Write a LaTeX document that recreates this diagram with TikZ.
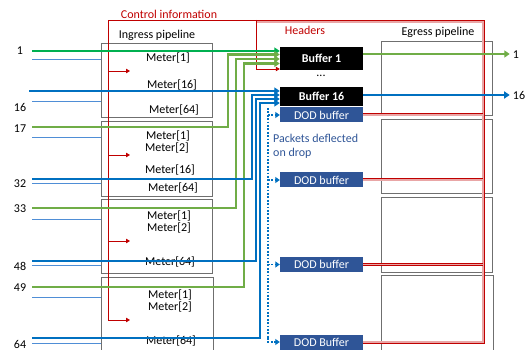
\documentclass[tikz,border=0pt]{standalone}
\usepackage{fontspec}
\setmainfont{Carlito}
\usetikzlibrary{arrows.meta}
\definecolor{gA}{HTML}{00B050}
\definecolor{gB}{HTML}{70AD47}
\definecolor{bA}{HTML}{0070C0}
\definecolor{bThin}{HTML}{4F8ED6}
\definecolor{rA}{HTML}{C00000}
\definecolor{dod}{HTML}{2F5597}
\definecolor{boxgray}{HTML}{6F6F6F}
\begin{document}
\begin{tikzpicture}[x=1pt,y=-1pt,
  font=\fontsize{12}{14}\selectfont,
  pipe/.style={draw=boxgray, line width=0.7pt, inner sep=0pt},
  txt/.style={inner sep=0pt},
  meter/.style={inner sep=0pt, text=black},
  thinln/.style={draw=bThin, line width=0.75pt},
  bigtip/.style={-{Triangle[length=5.5pt,width=7pt]}},
  gport1/.style={draw=gA, line width=2.6pt, bigtip},
  gport2/.style={draw=gB, line width=2.6pt, bigtip},
  bport/.style={draw=bA, line width=2.6pt, bigtip},
  ctrl/.style={draw=rA, line width=0.8pt},
  ctip/.style={-{Triangle[length=4pt,width=4.5pt]}},
  hdr/.style={draw=rA, double=rA!35, double distance=1.3pt, line width=0.85pt},
  buf/.style={fill=black, text=white, font=\fontsize{12}{14}\selectfont\bfseries, minimum width=83pt, inner sep=0pt},
  dodbuf/.style={fill=dod, text=white, minimum width=83pt, minimum height=15pt, inner sep=0pt},
  dots/.style={draw=bA, line width=1.8pt, dash pattern=on 1.8pt off 1.6pt},
  dtip/.style={-{Triangle[length=4.5pt,width=6pt]}},
]
\useasboundingbox (0,0) rectangle (528,350);

% ingress and egress boxes
\node[pipe, anchor=north west, minimum width=111pt, minimum height=74pt] (in1) at (101,43) {};
\node[pipe, anchor=north west, minimum width=111pt, minimum height=75pt] (in2) at (101,121) {};
\node[pipe, anchor=north west, minimum width=111pt, minimum height=74pt] (in3) at (101,199) {};
\node[pipe, anchor=north west, minimum width=112pt, minimum height=80pt] (in4) at (101,277) {};
\node[pipe, anchor=north west, minimum width=111pt, minimum height=74pt] (eg1) at (381,41) {};
\node[pipe, anchor=north west, minimum width=111pt, minimum height=74pt] (eg2) at (381,119) {};
\node[pipe, anchor=north west, minimum width=111pt, minimum height=75pt] (eg3) at (381,197) {};
\node[pipe, anchor=north west, minimum width=112pt, minimum height=80pt] (eg4) at (381,275) {};

% titles
\node[txt, text=rA] (ctitle) at (169,14) {Control information};
\node[txt] (ingt) at (157,35) {Ingress pipeline};
\node[txt] (egt) at (438,32) {Egress pipeline};
\node[txt, text=rA] (hdrt) at (305,30) {Headers};

% meters
\node[meter] (m11) at (168,58) {Meter[1]};
\node[meter] (m116) at (172,85) {Meter[16]};
\node[meter] (m164) at (174,110) {Meter[64]};
\node[meter] (m21) at (168,136) {Meter[1]};
\node[meter] (m22) at (167,148) {Meter[2]};
\node[meter] (m216) at (170,170) {Meter[16]};
\node[meter] (m264) at (173,188) {Meter[64]};
\node[meter] (m31) at (169,216) {Meter[1]};
\node[meter] (m32) at (169,228) {Meter[2]};
\node[meter] (m364) at (170,262) {Meter[64]};
\node[meter] (m41) at (170,295) {Meter[1]};
\node[meter] (m42) at (170,307) {Meter[2]};
\node[meter] (m464) at (171,341) {Meter[64]};

% port labels
\node[txt] (l1) at (20,51) {1};
\node[txt] (l16) at (20,107) {16};
\node[txt] (l17) at (20,129) {17};
\node[txt] (l32) at (20,184) {32};
\node[txt] (l33) at (20,209) {33};
\node[txt] (l48) at (20,266) {48};
\node[txt] (l49) at (20,288) {49};
\node[txt] (l64) at (20,344) {64};

% thin lines
\foreach \yy/\nm in {59/ta,101/tb,137/tc,183/td,219/te,265/tf,297/tg,343/th}{
  \coordinate (\nm) at (32,\yy);
  \draw[thinln] (\nm) -- (\nm -| in1.west);
}

% buffers
\node[buf, minimum height=23pt] (b1) at (321.5,58.5) {Buffer 1};
\node[txt] (dotsn) at (321,76) {...};
\node[buf, minimum height=19pt] (b16) at (321.5,96.5) {Buffer 16};
\node[dodbuf] (d1) at (321.5,115) {DOD buffer};
\node[dodbuf] (d2) at (321.5,180) {DOD buffer};
\node[dodbuf] (d3) at (321.5,264.5) {DOD buffer};
\node[dodbuf] (d4) at (321.5,342) {DOD Buffer};

\node[txt, anchor=west, align=left, text=dod] (pdd) at (273,146) {Packets deflected\\on drop};

% control information (red)
\coordinate (ctop) at (108,20);
\coordinate (cbot) at (108,320);
\coordinate (cturn) at (256,20);
\draw[ctrl] (cbot) -- (ctop) -- (cturn);
\draw[ctrl, ctip] (cturn) |- (b1.west |- 0,69);
\foreach \yy in {71,155,241,320}{
  \draw[ctrl, ctip] (108,\yy) -- (130,\yy);
}

% headers (double red)
\coordinate (hcorner) at (483,22);
\coordinate (hend) at (257,22);
\draw[hdr] (d4.east) -| (hcorner) -- (hend);
\draw[hdr] (d1.east) -- (d1.east -| hcorner);
\draw[hdr] (d2.east) -- (d2.east -| hcorner);
\draw[hdr] (d3.east) -- (d3.east -| hcorner);

% dotted deflection
\coordinate (dtop) at (268,108);
\draw[dots] (dtop) -- (268,338);
\draw[dots, dtip] (268,338) |- (d4.west);
\draw[dots, dtip] (dtop |- d1.west) -- (d1.west);
\draw[dots, dtip] (dtop |- d2.west) -- (d2.west);
\draw[dots, dtip] (dtop |- d3.west) -- (d3.west);

% port start coordinates
\coordinate (s1) at (32,51);
\coordinate (s16) at (29,91);
\coordinate (s17) at (32,127);
\coordinate (s32) at (32,179);
\coordinate (s33) at (32,208);
\coordinate (s48) at (32,261);
\coordinate (s49) at (32,287);
\coordinate (s64) at (32,338);

% green ports to Buffer 1
\draw[gport1] (s1) -- (b1.west |- s1);
\draw[gport2] (s17) -| (228,54.5) -- (b1.west |- 0,54.5);
\draw[gport2] (s33) -| (236,59) -- (b1.west |- 0,59);
\draw[gport2] (s49) -| (244,63.5) -- (b1.west |- 0,63.5);

% blue ports to Buffer 16
\draw[bport] (s16) -- (b16.west |- s16);
\draw[bport] (s32) -| (252,95) -- (b16.west |- 0,95);
\draw[bport] (s48) -| (256,99) -- (b16.west |- 0,99);
\draw[bport] (s64) -| (260,103) -- (b16.west |- 0,103);

% outputs
\node[txt] (o1) at (516,55) {1};
\node[txt] (o16) at (519,95) {16};
\draw[gport2, line width=2.4pt, shorten >=3pt] (b1.east |- 0,54) -- (o1.west |- 0,54);
\draw[bport, line width=2.4pt, shorten >=3pt] (b16.east |- 0,95) -- (o16.west |- 0,95);
\end{tikzpicture}
\end{document}
